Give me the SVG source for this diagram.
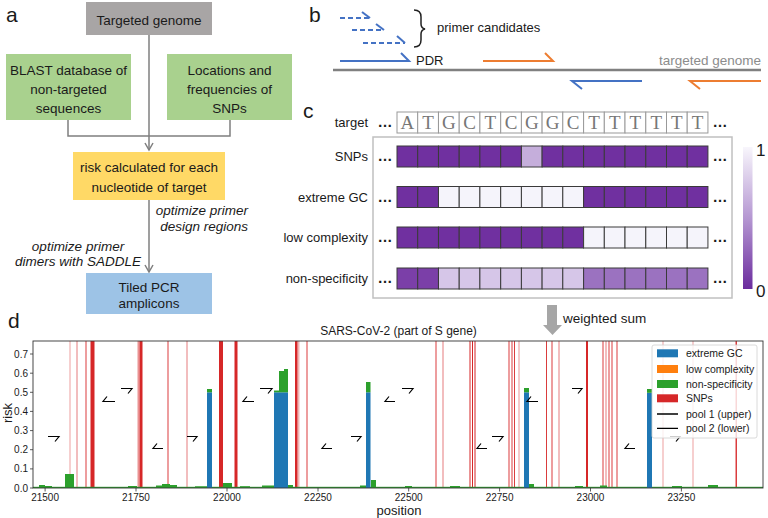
<svg xmlns="http://www.w3.org/2000/svg" width="768" height="518" viewBox="0 0 768 518">
<defs>
<marker id="ah" markerUnits="userSpaceOnUse" markerWidth="10" markerHeight="10" refX="8" refY="5" orient="auto">
<path d="M1,1 L8,5 L1,9" fill="none" stroke="#7f7f7f" stroke-width="1.5"/>
</marker>
<linearGradient id="cb" x1="0" y1="0" x2="0" y2="1">
<stop offset="0" stop-color="#f8f6fc"/>
<stop offset="0.5" stop-color="#b597d2"/>
<stop offset="1" stop-color="#6b2c9e"/>
</linearGradient>
<style>
text{font-family:"Liberation Sans",Arial,sans-serif;fill:#1a1a1a}
.pl{font-size:21px}
.nt{font-size:13.5px;text-anchor:middle}
.it{font-size:13.5px;font-style:italic}
.con{fill:none;stroke:#7f7f7f;stroke-width:1.5}
.b13{font-size:13px}
.tc{fill:#fff;stroke:#999;stroke-width:1}
.tl{font-family:"Liberation Serif","Times New Roman",serif;font-size:19px;fill:#777;text-anchor:middle}
.lab{font-size:13px;text-anchor:end}
.dots{font-size:15px;font-weight:bold;text-anchor:middle}
.hc{stroke:#3a3a3a;stroke-width:1}
.d{fill:#7030a0}
.w{fill:#f5f4fb}
.s{fill:#c5aedb}
.n1{fill:#7b3fa8}
.n2{fill:#d6c6e8}
.n3{fill:#9b72c0}
.bl{fill:none;stroke:#4472c4;stroke-width:2}
.bd{fill:none;stroke:#4472c4;stroke-width:2;stroke-dasharray:5,3}
.or{fill:none;stroke:#ed7d31;stroke-width:2}
.snp{fill:#d62728}
.gr{fill:#2ca02c}
.bu{fill:#1f77b4}
.tk{font-size:10px}
.pr{fill:none;stroke:#000;stroke-width:1.2}
.lg{font-size:10.5px}
</style>
</defs>

<!-- Panel a -->
<text class="pl" x="6" y="22">a</text>
<g id="connectors">
<path class="con" d="M149,35 V150" marker-end="url(#ah)"/>
<path class="con" d="M68,120 V136 H230 V120"/>
<path class="con" d="M149,200 V272" marker-end="url(#ah)"/>
</g>
<g id="targeted-genome">
<rect x="86" y="2" width="126" height="33" fill="#a8a5a5"/>
<text class="nt" x="149" y="25">Targeted genome</text>
</g>
<g id="blast-db">
<rect x="6" y="54" width="125" height="66" fill="#a9d18e"/>
<text class="nt" x="68.5" y="75">BLAST database of</text>
<text class="nt" x="68.5" y="94">non-targeted</text>
<text class="nt" x="68.5" y="113">sequences</text>
</g>
<g id="snp-locations">
<rect x="167" y="54" width="125" height="66" fill="#a9d18e"/>
<text class="nt" x="229.5" y="75">Locations and</text>
<text class="nt" x="229.5" y="94">frequencies of</text>
<text class="nt" x="229.5" y="113">SNPs</text>
</g>
<g id="risk">
<rect x="73" y="152" width="152" height="48" fill="#ffd966"/>
<text class="nt" x="149" y="172">risk calculated for each</text>
<text class="nt" x="149" y="192">nucleotide of target</text>
</g>
<g id="tiled">
<rect x="86" y="273" width="126" height="41" fill="#9dc3e6"/>
<text class="nt" x="149" y="292">Tiled PCR</text>
<text class="nt" x="149" y="308">amplicons</text>
</g>
<g id="step-labels">
<text class="it" x="248" y="215" text-anchor="end">optimize primer</text>
<text class="it" x="248" y="231" text-anchor="end">design regions</text>
<text class="it" x="78" y="251" text-anchor="middle">optimize primer</text>
<text class="it" x="78" y="266" text-anchor="middle">dimers with SADDLE</text>
</g>

<!-- Panel b -->
<g id="panel-b">
<text class="pl" x="309" y="22">b</text>
<path class="bd" d="M340,18 H370"/><path class="bl" d="M370,18 L362,12"/>
<path class="bd" d="M352,30 H384"/><path class="bl" d="M384,30 L376,24"/>
<path class="bd" d="M363,43 H405"/><path class="bl" d="M405,43 L397,36"/>
<path d="M414,10 Q421,10 421,17 V24 Q421,28 425,29 Q421,30 421,34 V40 Q421,47 414,47" fill="none" stroke="#222" stroke-width="1.5"/>
<text class="b13" x="437" y="32">primer candidates</text>
<path class="bl" d="M340,61 H409 L401,53"/>
<text class="b13" x="416" y="65">PDR</text>
<path class="or" d="M483,61 H553 L545,53"/>
<text x="761" y="65" text-anchor="end" style="font-size:13.5px;fill:#8c8c8c">targeted genome</text>
<path d="M333,70 H761" stroke="#808080" stroke-width="2.5"/>
<path class="bl" d="M642,81 H572 L582,89"/>
<path class="or" d="M761,81 H690 L700,89"/>
</g>

<!-- Panel c -->
<g id="panel-c">
<text class="pl" x="303" y="118">c</text>
<text class="lab" x="368" y="127">target</text>
<text class="dots" x="385" y="127">…</text>
<text class="dots" x="720" y="127">…</text>
<g id="target-cells">
<rect class="tc" x="397" y="112" width="20.73" height="21"/><rect class="tc" x="417.7" y="112" width="20.73" height="21"/><rect class="tc" x="438.5" y="112" width="20.73" height="21"/><rect class="tc" x="459.2" y="112" width="20.73" height="21"/><rect class="tc" x="479.9" y="112" width="20.73" height="21"/><rect class="tc" x="500.7" y="112" width="20.73" height="21"/><rect class="tc" x="521.4" y="112" width="20.73" height="21"/><rect class="tc" x="542.1" y="112" width="20.73" height="21"/><rect class="tc" x="562.8" y="112" width="20.73" height="21"/><rect class="tc" x="583.6" y="112" width="20.73" height="21"/><rect class="tc" x="604.3" y="112" width="20.73" height="21"/><rect class="tc" x="625" y="112" width="20.73" height="21"/><rect class="tc" x="645.8" y="112" width="20.73" height="21"/><rect class="tc" x="666.5" y="112" width="20.73" height="21"/><rect class="tc" x="687.2" y="112" width="20.73" height="21"/>
<text class="tl" x="407.4" y="128.5">A</text><text class="tl" x="428.1" y="128.5">T</text><text class="tl" x="448.9" y="128.5">G</text><text class="tl" x="469.6" y="128.5">C</text><text class="tl" x="490.3" y="128.5">T</text><text class="tl" x="511.1" y="128.5">C</text><text class="tl" x="531.8" y="128.5">G</text><text class="tl" x="552.5" y="128.5">G</text><text class="tl" x="573.2" y="128.5">C</text><text class="tl" x="594" y="128.5">T</text><text class="tl" x="614.7" y="128.5">T</text><text class="tl" x="635.4" y="128.5">T</text><text class="tl" x="656.2" y="128.5">T</text><text class="tl" x="676.9" y="128.5">T</text><text class="tl" x="697.6" y="128.5">T</text>
</g>
<rect x="373" y="137" width="359" height="161" fill="none" stroke="#c0c0c0" stroke-width="1.5"/>
<text class="lab" x="368" y="161">SNPs</text>
<text class="lab" x="368" y="201.5">extreme GC</text>
<text class="lab" x="368" y="242">low complexity</text>
<text class="lab" x="368" y="283">non-specificity</text>
<text class="dots" x="385" y="161">…</text><text class="dots" x="720" y="161">…</text>
<text class="dots" x="385" y="201.5">…</text><text class="dots" x="720" y="201.5">…</text>
<text class="dots" x="385" y="242">…</text><text class="dots" x="720" y="242">…</text>
<text class="dots" x="385" y="283">…</text><text class="dots" x="720" y="283">…</text>
<g id="row-snps" class="hc">
<rect class="d" x="397" y="146" width="20.73" height="21"/><rect class="d" x="417.7" y="146" width="20.73" height="21"/><rect class="d" x="438.5" y="146" width="20.73" height="21"/><rect class="d" x="459.2" y="146" width="20.73" height="21"/><rect class="d" x="479.9" y="146" width="20.73" height="21"/><rect class="d" x="500.7" y="146" width="20.73" height="21"/><rect class="s" x="521.4" y="146" width="20.73" height="21"/><rect class="d" x="542.1" y="146" width="20.73" height="21"/><rect class="d" x="562.8" y="146" width="20.73" height="21"/><rect class="d" x="583.6" y="146" width="20.73" height="21"/><rect class="d" x="604.3" y="146" width="20.73" height="21"/><rect class="d" x="625" y="146" width="20.73" height="21"/><rect class="d" x="645.8" y="146" width="20.73" height="21"/><rect class="d" x="666.5" y="146" width="20.73" height="21"/><rect class="d" x="687.2" y="146" width="20.73" height="21"/>
</g>
<g id="row-gc" class="hc">
<rect class="d" x="397" y="186.5" width="20.73" height="21"/><rect class="d" x="417.7" y="186.5" width="20.73" height="21"/><rect class="w" x="438.5" y="186.5" width="20.73" height="21"/><rect class="w" x="459.2" y="186.5" width="20.73" height="21"/><rect class="w" x="479.9" y="186.5" width="20.73" height="21"/><rect class="w" x="500.7" y="186.5" width="20.73" height="21"/><rect class="w" x="521.4" y="186.5" width="20.73" height="21"/><rect class="w" x="542.1" y="186.5" width="20.73" height="21"/><rect class="w" x="562.8" y="186.5" width="20.73" height="21"/><rect class="d" x="583.6" y="186.5" width="20.73" height="21"/><rect class="d" x="604.3" y="186.5" width="20.73" height="21"/><rect class="d" x="625" y="186.5" width="20.73" height="21"/><rect class="d" x="645.8" y="186.5" width="20.73" height="21"/><rect class="d" x="666.5" y="186.5" width="20.73" height="21"/><rect class="d" x="687.2" y="186.5" width="20.73" height="21"/>
</g>
<g id="row-lc" class="hc">
<rect class="d" x="397" y="227" width="20.73" height="21"/><rect class="d" x="417.7" y="227" width="20.73" height="21"/><rect class="d" x="438.5" y="227" width="20.73" height="21"/><rect class="d" x="459.2" y="227" width="20.73" height="21"/><rect class="d" x="479.9" y="227" width="20.73" height="21"/><rect class="d" x="500.7" y="227" width="20.73" height="21"/><rect class="d" x="521.4" y="227" width="20.73" height="21"/><rect class="d" x="542.1" y="227" width="20.73" height="21"/><rect class="d" x="562.8" y="227" width="20.73" height="21"/><rect class="w" x="583.6" y="227" width="20.73" height="21"/><rect class="w" x="604.3" y="227" width="20.73" height="21"/><rect class="w" x="625" y="227" width="20.73" height="21"/><rect class="w" x="645.8" y="227" width="20.73" height="21"/><rect class="w" x="666.5" y="227" width="20.73" height="21"/><rect class="w" x="687.2" y="227" width="20.73" height="21"/>
</g>
<g id="row-ns" class="hc">
<rect class="n1" x="397" y="268" width="20.73" height="21"/><rect class="n1" x="417.7" y="268" width="20.73" height="21"/><rect class="n2" x="438.5" y="268" width="20.73" height="21"/><rect class="n2" x="459.2" y="268" width="20.73" height="21"/><rect class="n2" x="479.9" y="268" width="20.73" height="21"/><rect class="n2" x="500.7" y="268" width="20.73" height="21"/><rect class="n2" x="521.4" y="268" width="20.73" height="21"/><rect class="n2" x="542.1" y="268" width="20.73" height="21"/><rect class="n2" x="562.8" y="268" width="20.73" height="21"/><rect class="n3" x="583.6" y="268" width="20.73" height="21"/><rect class="n3" x="604.3" y="268" width="20.73" height="21"/><rect class="n3" x="625" y="268" width="20.73" height="21"/><rect class="n3" x="645.8" y="268" width="20.73" height="21"/><rect class="n3" x="666.5" y="268" width="20.73" height="21"/><rect class="n3" x="687.2" y="268" width="20.73" height="21"/>
</g>
<rect x="743" y="147" width="9.5" height="142" fill="url(#cb)"/>
<text x="756" y="156" style="font-size:17px">1</text>
<text x="756" y="297" style="font-size:17px">0</text>
</g>

<!-- weighted sum arrow -->
<g id="weighted-sum">
<path d="M547,305 H557 V325 H562 L552.5,335 L543,325 H547 Z" fill="#a6a6a6"/>
<text x="563" y="323" style="font-size:13.5px">weighted sum</text>
</g>

<!-- Panel d -->
<g id="panel-d">
<text class="pl" x="8" y="328">d</text>
<text x="398.5" y="335" text-anchor="middle" style="font-size:12px">SARS-CoV-2 (part of S gene)</text>
<g id="snp-lines">
<rect class="snp" x="69.5" y="341" width="1" height="147" opacity="0.45"/>
<rect class="snp" x="76.5" y="341" width="1" height="147" opacity="0.6"/>
<rect class="snp" x="85.5" y="341" width="1" height="147" opacity="0.9"/>
<rect class="snp" x="90.5" y="341" width="4" height="147"/>
<rect class="snp" x="137.5" y="341" width="2" height="147" opacity="0.5"/>
<rect class="snp" x="139.5" y="341" width="3" height="147"/>
<rect class="snp" x="167.5" y="341" width="1" height="147" opacity="0.9"/>
<rect class="snp" x="186.5" y="341" width="1" height="147" opacity="0.6"/>
<rect class="snp" x="219" y="341" width="4" height="147"/>
<rect class="snp" x="234.5" y="341" width="3" height="147"/>
<rect class="snp" x="295" y="341" width="2.5" height="147"/>
<rect class="snp" x="297.5" y="341" width="2" height="147" opacity="0.35"/>
<rect class="snp" x="306.5" y="341" width="1" height="147" opacity="0.9"/>
<rect class="snp" x="435.5" y="341" width="1" height="147" opacity="0.9"/>
<rect class="snp" x="442.5" y="341" width="1" height="147" opacity="0.6"/>
<rect class="snp" x="469.5" y="341" width="1" height="147"/>
<rect class="snp" x="472" y="341" width="1" height="147"/>
<rect class="snp" x="474.5" y="341" width="1" height="147"/>
<rect class="snp" x="508.5" y="341" width="1" height="147" opacity="0.9"/>
<rect class="snp" x="511.5" y="341" width="1" height="147" opacity="0.9"/>
<rect class="snp" x="514" y="341" width="1" height="147" opacity="0.9"/>
<rect class="snp" x="518.5" y="341" width="1" height="147" opacity="0.5"/>
<rect class="snp" x="546" y="341" width="1" height="147" opacity="0.9"/>
<rect class="snp" x="551.5" y="341" width="1" height="147" opacity="0.9"/>
<rect class="snp" x="558.5" y="341" width="1" height="147" opacity="0.6"/>
<rect class="snp" x="586" y="341" width="2" height="147"/>
<rect class="snp" x="602.5" y="341" width="1" height="147" opacity="0.9"/>
<rect class="snp" x="605.5" y="341" width="1" height="147" opacity="0.6"/>
<rect class="snp" x="608.5" y="341" width="1" height="147" opacity="0.9"/>
<rect class="snp" x="611.5" y="341" width="1" height="147" opacity="0.9"/>
<rect class="snp" x="616.5" y="341" width="1" height="147" opacity="0.9"/>
<rect class="snp" x="662.5" y="341" width="1" height="147" opacity="0.45"/>
<rect class="snp" x="692.5" y="341" width="1" height="147" opacity="0.45"/>
<rect class="snp" x="735.5" y="341" width="1.5" height="147" opacity="0.9"/>
</g>
<g id="bars">
<rect class="gr" x="33" y="486.8" width="730" height="1.2"/>
<rect class="gr" x="39" y="485" width="6" height="3"/>
<rect class="gr" x="45" y="486" width="7" height="2"/>
<rect class="gr" x="65" y="474" width="9" height="14"/>
<rect class="gr" x="128" y="486" width="9" height="2"/>
<rect class="gr" x="156" y="485.5" width="6" height="2.5"/>
<rect class="gr" x="162" y="484" width="8" height="4"/>
<rect class="gr" x="170" y="485" width="7" height="3"/>
<rect class="gr" x="195" y="486.3" width="12" height="1.7"/>
<rect class="gr" x="223" y="483" width="9" height="5"/>
<rect class="gr" x="240" y="486.2" width="10" height="1.8"/>
<rect class="gr" x="262" y="485.5" width="12" height="2.5"/>
<rect class="gr" x="288" y="485" width="5" height="3"/>
<rect class="gr" x="360" y="485.5" width="6" height="2.5"/>
<rect class="gr" x="371" y="480" width="5" height="8"/>
<rect class="gr" x="405" y="486" width="7" height="2"/>
<rect class="gr" x="450" y="486" width="10" height="2"/>
<rect class="gr" x="529" y="484" width="5" height="4"/>
<rect class="gr" x="575" y="486" width="8" height="2"/>
<rect class="gr" x="600" y="485.5" width="7" height="2.5"/>
<rect class="gr" x="672" y="486" width="10" height="2"/>
<rect class="gr" x="708" y="485" width="10" height="3"/>
<rect class="bu" x="207" y="392.3" width="5" height="95.7"/>
<rect class="gr" x="207" y="389" width="5" height="3.3"/>
<rect class="bu" x="274" y="392.3" width="14" height="95.7"/>
<rect class="gr" x="274" y="390.5" width="5" height="1.8"/>
<rect class="gr" x="279" y="371" width="5" height="21.3"/>
<rect class="gr" x="284" y="369" width="4" height="23.3"/>
<rect class="bu" x="366" y="392.3" width="4.5" height="95.7"/>
<rect class="gr" x="366" y="382" width="4.5" height="10.3"/>
<rect class="bu" x="524" y="392.3" width="5" height="95.7"/>
<rect class="gr" x="524" y="388" width="5" height="4.3"/>
<rect class="bu" x="647" y="392.8" width="5" height="95.2"/>
<rect class="gr" x="647" y="389" width="5" height="3.8"/>
</g>
<g id="primers">
<path class="pr" d="M121,388.5 H132 L128,393.5"/>
<path class="pr" d="M260,388.5 H272 L268,393.5"/>
<path class="pr" d="M402,388.5 H413 L409,393.5"/>
<path class="pr" d="M572,388.5 H582 L578,393.5"/>
<path class="pr" d="M48,436.5 H59 L55,441.5"/>
<path class="pr" d="M187,436.5 H197 L193,441.5"/>
<path class="pr" d="M351,436.5 H361 L357,441.5"/>
<path class="pr" d="M492,436.5 H503 L499,441.5"/>
<path class="pr" d="M670,436.5 H680 L676,441.5"/>
<path class="pr" d="M115,401.5 H103 L107,396.5"/>
<path class="pr" d="M254,401.5 H243 L247,396.5"/>
<path class="pr" d="M395,401.5 H385 L389,396.5"/>
<path class="pr" d="M538,401.5 H527 L531,396.5"/>
<path class="pr" d="M163,448.5 H153 L157,443.5"/>
<path class="pr" d="M332,448.5 H322 L326,443.5"/>
<path class="pr" d="M487,448.5 H477 L481,443.5"/>
<path class="pr" d="M635,448.5 H625 L629,443.5"/>
</g>
<rect x="33" y="341" width="730" height="147" fill="none" stroke="#333" stroke-width="0.9"/>
<g id="y-axis" stroke="#333" stroke-width="0.8">
<path d="M30,488 H33 M30,468.9 H33 M30,449.7 H33 M30,430.6 H33 M30,411.4 H33 M30,392.3 H33 M30,373.2 H33 M30,354 H33"/>
</g>
<g id="y-labels" class="tk" text-anchor="end">
<text x="28" y="491.5">0.0</text>
<text x="28" y="472.4">0.1</text>
<text x="28" y="453.2">0.2</text>
<text x="28" y="434.1">0.3</text>
<text x="28" y="414.9">0.4</text>
<text x="28" y="395.8">0.5</text>
<text x="28" y="376.7">0.6</text>
<text x="28" y="357.5">0.7</text>
</g>
<text transform="translate(12,413) rotate(-90)" text-anchor="middle" style="font-size:13px">risk</text>
<g id="x-axis" stroke="#333" stroke-width="0.8">
<path d="M45.1,488 V491.5 M136,488 V491.5 M227,488 V491.5 M318,488 V491.5 M408.7,488 V491.5 M499.6,488 V491.5 M590.5,488 V491.5 M681.4,488 V491.5"/>
</g>
<g id="x-labels" class="tk" text-anchor="middle">
<text x="45.1" y="500.5">21500</text>
<text x="136" y="500.5">21750</text>
<text x="227" y="500.5">22000</text>
<text x="318" y="500.5">22250</text>
<text x="408.7" y="500.5">22500</text>
<text x="499.6" y="500.5">22750</text>
<text x="590.5" y="500.5">23000</text>
<text x="681.4" y="500.5">23250</text>
</g>
<text x="399" y="514.5" text-anchor="middle" style="font-size:13px">position</text>
<g id="legend">
<rect x="652" y="345" width="105" height="93" rx="2" fill="#fff" fill-opacity="0.8" stroke="#d0d0d0" stroke-width="0.8"/>
<rect class="bu" x="657" y="349.3" width="21" height="8"/>
<rect x="657" y="365" width="21" height="8" fill="#ff7f0e"/>
<rect class="gr" x="657" y="380" width="21" height="8"/>
<rect class="snp" x="657" y="394.3" width="21" height="8"/>
<path d="M657,414 H678 M657,428.3 H678" stroke="#000" stroke-width="1.3"/>
<text class="lg" x="686" y="357">extreme GC</text>
<text class="lg" x="686" y="372.5">low complexity</text>
<text class="lg" x="686" y="387.5">non-specificity</text>
<text class="lg" x="686" y="402">SNPs</text>
<text class="lg" x="686" y="417.5">pool 1 (upper)</text>
<text class="lg" x="686" y="432">pool 2 (lower)</text>
</g>
</g>
</svg>
